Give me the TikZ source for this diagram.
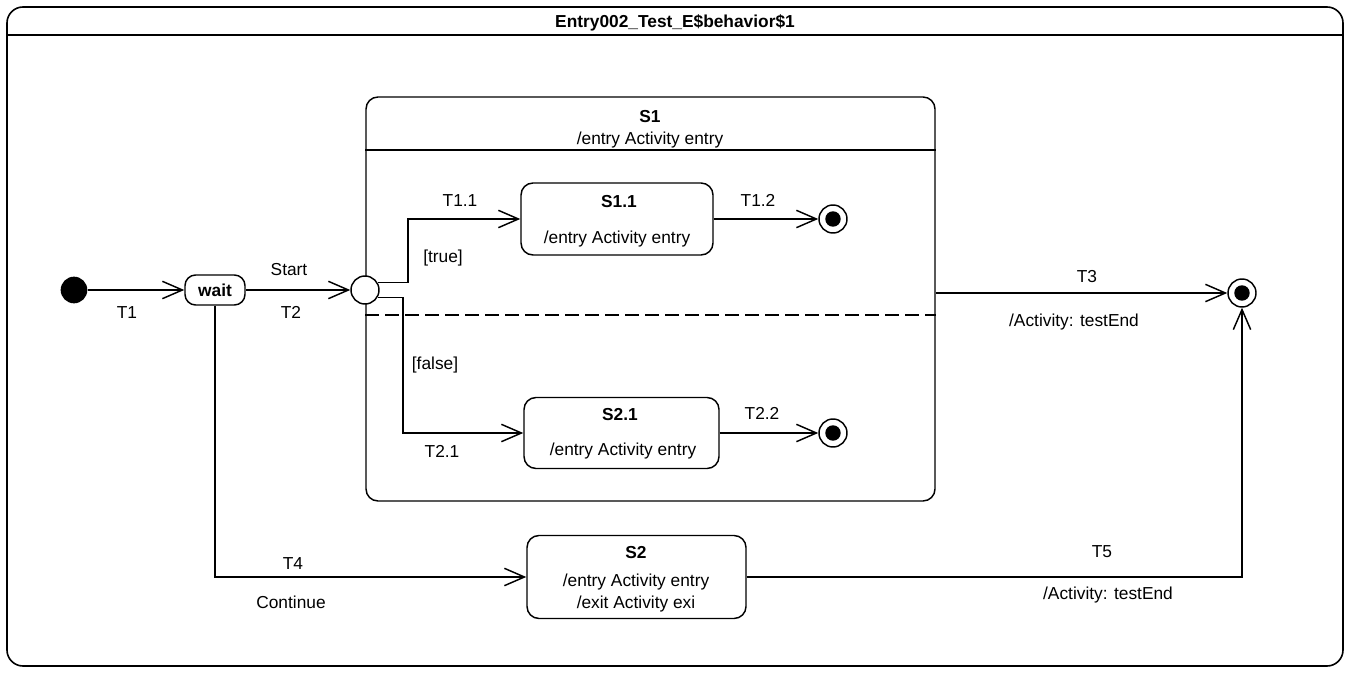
\documentclass[tikz,border=0pt]{standalone}
\usepackage{fontspec}
\setmainfont{Liberation Sans}
\usetikzlibrary{arrows.meta}
\begin{document}
\begin{tikzpicture}[x=0.75pt,y=-0.75pt,
  lbl/.style={font=\fontsize{13}{15}\selectfont, inner sep=0pt, text height=9.3pt, text depth=0pt},
  blbl/.style={font=\fontsize{13}{15}\selectfont\bfseries, inner sep=0pt, text height=9.3pt, text depth=0pt},
  statebox/.style={draw, line width=1.1pt, rounded corners=9pt, inner sep=0pt, fill=white},
  tr/.style={draw, line width=1.1pt, -{Straight Barb[length=15pt,width=13pt]}},
  finalst/.style={circle, draw, line width=1.1pt, fill=white, minimum size=21pt, inner sep=0pt,
    path picture={\fill[black] (path picture bounding box.center) circle (5.8pt);}},
]
\useasboundingbox (0,0) rectangle (1350,673);
% frame
\node[draw, line width=1.2pt, rounded corners=12pt, minimum width=1002pt, minimum height=494.25pt, inner sep=0pt] (frame) at (675,336.5) {};
\draw[line width=1.2pt] (frame.west |- 0,35) -- (frame.east |- 0,35);
\node[blbl] (title) at (675,21) {Entry002\_Test\_E\$behavior\$1};

% composite S1
\node[statebox, minimum width=426.75pt, minimum height=303pt] (S1) at (650.5,299) {};
\draw[line width=1.1pt] (S1.west |- 0,150) -- (S1.east |- 0,150);
\draw[line width=1.1pt, dash pattern=on 10pt off 5pt] (S1.west |- 0,315) -- (S1.east |- 0,315);
\node[blbl] (S1t) at (650,116) {S1};
\node[lbl] (S1e) at (650,138) {/entry Activity entry};

% nodes
\node[circle, fill=black, minimum size=20pt, inner sep=0pt] (init) at (74,290) {};
\node[statebox, rounded corners=8pt, minimum width=45pt, minimum height=22.5pt, font=\fontsize{13}{15}\selectfont\bfseries] (wait) at (215,290) {wait};
\node[circle, draw, line width=1.1pt, fill=white, minimum size=21pt, inner sep=0pt] (choice) at (365,290) {};

\node[statebox, minimum width=144pt, minimum height=54pt] (S11) at (617,219) {};
\node[blbl] (S11t) at (619,201) {S1.1};
\node[lbl] (S11e) at (617,237) {/entry Activity entry};
\node[finalst] (F11) at (833,219) {};

\node[statebox, minimum width=146.25pt, minimum height=53.25pt] (S21) at (621.5,433) {};
\node[blbl] (S21t) at (620,414) {S2.1};
\node[lbl] (S21e) at (623,449) {/entry Activity entry};
\node[finalst] (F21) at (833,433) {};

\node[statebox, minimum width=164.25pt, minimum height=62.25pt] (S2) at (636.5,577) {};
\node[blbl] (S2t) at (636,552) {S2};
\node[lbl] (S2e) at (636,580) {/entry Activity entry};
\node[lbl] (S2x) at (636,602) {/exit Activity exi};

\node[finalst] (Ff) at (1242,293) {};

\coordinate (tx) at (408,0);
\coordinate (fx) at (403,0);

% transitions
\draw[tr] (init) -- (wait);
\draw[tr] (wait) -- (choice);
\draw[tr] (choice.30) -- (choice.30 -| tx) |- (S11.west);
\draw[tr] (choice.-30) -- (choice.-30 -| fx) |- (S21.west);
\draw[tr] (S11) -- (F11);
\draw[tr] (S21) -- (F21);
\draw[tr] (S1.east |- Ff) -- (Ff);
\draw[tr] (wait.south) |- (S2.west);
\draw[tr] (S2.east) -| (Ff.south);

% labels
\node[lbl] (lT1) at (127,312) {T1};
\node[lbl] (lStart) at (289,269) {Start};
\node[lbl] (lT2) at (291,312) {T2};
\node[lbl] (ltrue) at (443,256) {[true]};
\node[lbl] (lfalse) at (435,363) {[false]};
\node[lbl] (lT11) at (460,200) {T1.1};
\node[lbl] (lT12) at (758,200) {T1.2};
\node[lbl] (lT21) at (442,451) {T2.1};
\node[lbl] (lT22) at (762,413) {T2.2};
\node[lbl] (lT3) at (1087,276) {T3};
\node[lbl] (lA3) at (1074,320) {/Activity: testEnd};
\node[lbl] (lT4) at (293,563) {T4};
\node[lbl] (lC) at (291,602) {Continue};
\node[lbl] (lT5) at (1102,551) {T5};
\node[lbl] (lA5) at (1108,593) {/Activity: testEnd};
\end{tikzpicture}
\end{document}
